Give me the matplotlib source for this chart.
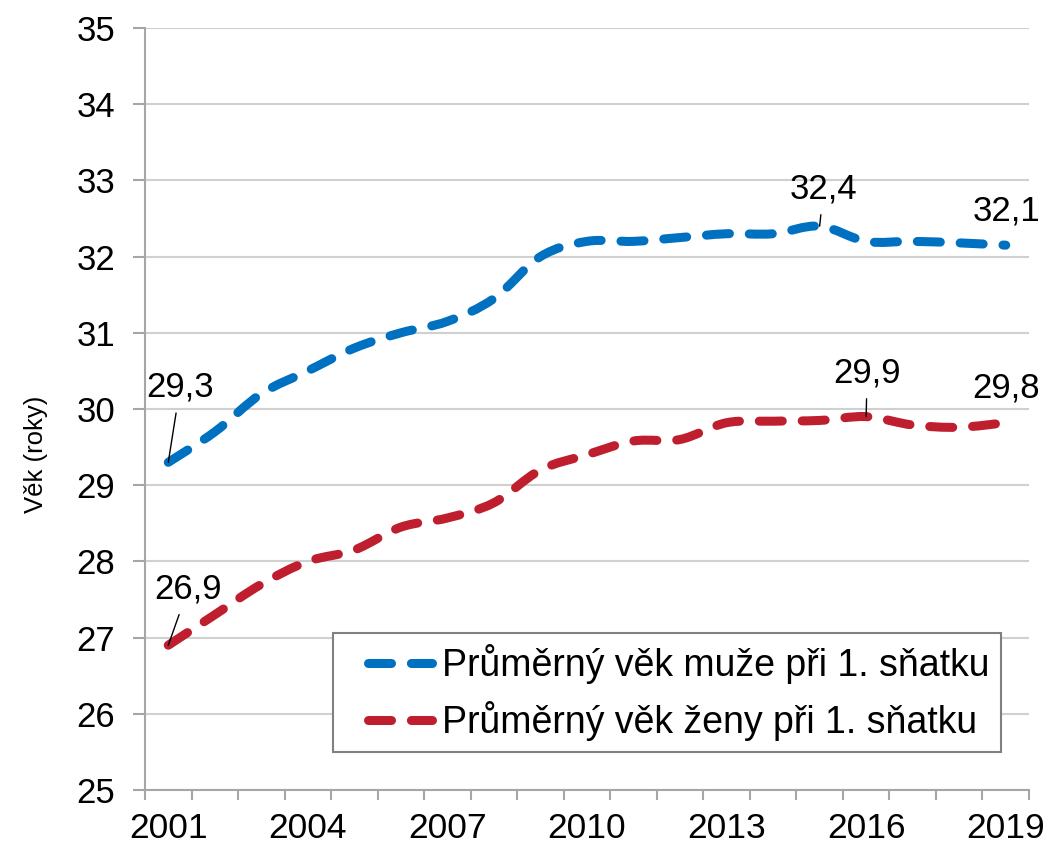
import numpy as np
import matplotlib
matplotlib.use('Agg')
import matplotlib.pyplot as plt
from matplotlib.path import Path
from matplotlib.patches import PathPatch
from matplotlib.lines import Line2D
from matplotlib.legend_handler import HandlerLine2D

plt.rcParams['font.family'] = ['Liberation Sans', 'DejaVu Sans']

# data
years = list(range(2001, 2020))
muzi = [29.3, 29.7, 30.2, 30.5, 30.8, 31.0, 31.15, 31.45, 32.0, 32.2,
        32.2, 32.25, 32.3, 32.3, 32.4, 32.2, 32.2, 32.18, 32.15]
zeny = [26.9, 27.3, 27.7, 28.0, 28.15, 28.45, 28.57, 28.77, 29.2, 29.4,
        29.58, 29.6, 29.82, 29.84, 29.85, 29.9, 29.79, 29.76, 29.82]
label_muzi = 'Průměrný věk muže při 1. sňatku'
label_zeny = 'Průměrný věk ženy při 1. sňatku'
tick_years = [2001, 2004, 2007, 2010, 2013, 2016, 2019]

c_blue = '#0070C0'
c_red = '#BE1E2D'
LW = 6.5
DASH = (0, (2.55, 2.2))


def smooth_path(xs, ys):
    # Bezier smoothing similar to spreadsheet "smoothed line"
    pts = np.column_stack([xs, ys]).astype(float)
    n = len(pts)
    verts = [pts[0]]
    codes = [Path.MOVETO]
    for i in range(n - 1):
        p0 = pts[max(i - 1, 0)]
        p1 = pts[i]
        p2 = pts[i + 1]
        p3 = pts[min(i + 2, n - 1)]
        c1 = p1 + (p2 - p0) / 6.0
        c2 = p2 - (p3 - p1) / 6.0
        verts += [c1, c2, p2]
        codes += [Path.CURVE4] * 3
    return Path(verts, codes)


fig = plt.figure(figsize=(10.52, 8.5), dpi=100)
ax = fig.add_axes([145 / 1052, 1 - 790 / 850, 884 / 1052, 762 / 850])

x = np.arange(len(years))
for vals, col in [(muzi, c_blue), (zeny, c_red)]:
    patch = PathPatch(smooth_path(x, vals), fill=False, edgecolor=col,
                      linewidth=LW, linestyle=DASH, capstyle='round',
                      joinstyle='round', zorder=3)
    ax.add_patch(patch)

ax.set_xlim(-0.5, len(years) - 0.5)
ax.set_ylim(25, 35)
ax.set_yticks(range(25, 36))
ax.set_yticklabels([str(v) for v in range(25, 36)], fontsize=25)

ax.set_xticks(np.arange(-0.5, len(years), 1))
ax.set_xticklabels([])
ax.set_xticks([years.index(y) for y in tick_years], minor=True)
ax.set_xticklabels([str(y) for y in tick_years], minor=True, fontsize=25.5)
ax.tick_params(axis='x', which='major', length=7.5, width=1.5, color='#A6A6A6', direction='out')
ax.tick_params(axis='x', which='minor', length=0, pad=16)
ax.tick_params(axis='y', length=8.5, width=1.5, color='#A6A6A6', pad=13)

ax.grid(axis='y', color='#D0D0D0', linewidth=1.5)
ax.set_axisbelow(True)
for s in ['top', 'right']:
    ax.spines[s].set_visible(False)
for s in ['left', 'bottom']:
    ax.spines[s].set_color('#A6A6A6')
    ax.spines[s].set_linewidth(1.5)

ax.set_ylabel('Věk (roky)', fontsize=18.5)
ax.yaxis.set_label_coords(-0.11, 0.44)

# data labels (offsets in points, text baseline)
def fmt(v):
    return f'{v:.1f}'.replace('.', ',')

ann = [
    (muzi, 0, (8.6, 47.5), True),
    (muzi, 14, (2.9, 20.2), True),
    (muzi, 18, (0.7, 18), False),
    (zeny, 0, (14.4, 33.8), True),
    (zeny, 15, (0.7, 24.9), True),
    (zeny, 18, (0, 17.8), False),
]
for series, i, off, leader in ann:
    props = None
    if leader:
        props = dict(arrowstyle='-', color='black', lw=1, shrinkA=5, shrinkB=0)
    ax.annotate(fmt(series[i]), xy=(i, series[i]), xytext=off,
                textcoords='offset points', ha='center', va='baseline',
                fontsize=25, zorder=5, arrowprops=props)

handles = [
    Line2D([], [], color=c_blue, linewidth=LW, linestyle=DASH, dash_capstyle='round'),
    Line2D([], [], color=c_red, linewidth=LW, linestyle=DASH, dash_capstyle='round'),
]
leg = ax.legend(handles, [label_muzi, label_zeny], loc='lower left',
                bbox_to_anchor=(0.2127, 0.05), borderaxespad=0, fontsize=27,
                handlelength=2.35, handletextpad=0.25, labelspacing=0.45,
                borderpad=0.3, fancybox=False, framealpha=1,
                handler_map={Line2D: HandlerLine2D(xpad=0.62)})
leg.get_frame().set_edgecolor('#808080')
leg.get_frame().set_linewidth(1.5)

plt.savefig('out.png', dpi=100)
